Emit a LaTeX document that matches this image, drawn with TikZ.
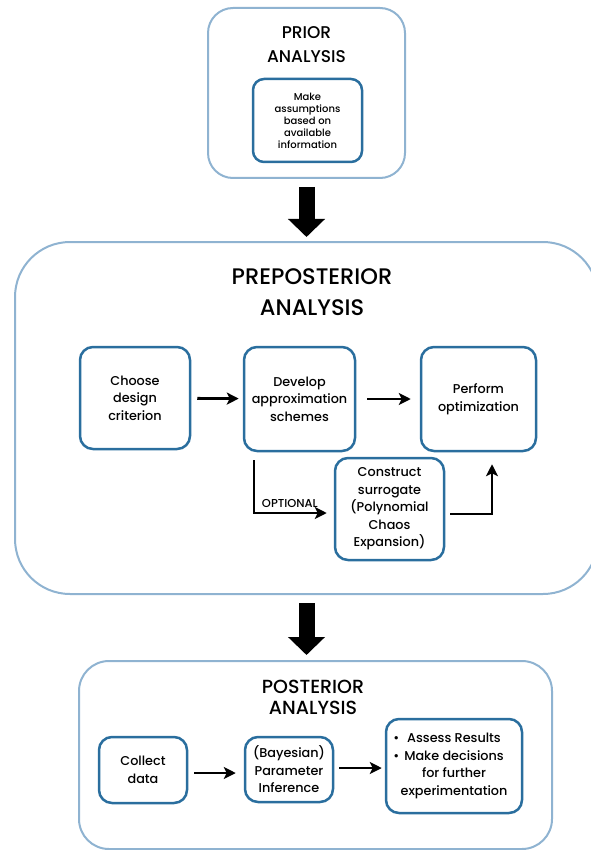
\documentclass[tikz,border=0pt]{standalone}
\usepackage{fontspec}
\setmainfont{Poppins}[UprightFont=* Medium]
\usetikzlibrary{arrows.meta,positioning}
\definecolor{framelight}{HTML}{8FB3D1}
\definecolor{framedark}{HTML}{2A6E9E}
\tikzset{
  stage/.style={draw=framelight, line width=2pt},
  task/.style={draw=framedark, line width=2.5pt, rounded corners=13pt,
    align=center, inner sep=2pt, font=\fontsize{12.8}{17.5}\selectfont},
  heading/.style={align=center, inner sep=0pt},
  flow/.style={-{Stealth[length=12pt,width=12pt,inset=3pt]}, line width=2.8pt},
  bigarrow/.style={-{Triangle[width=36pt,length=18pt]}, line width=16pt}
}

\begin{document}
\begin{tikzpicture}[>=Latex, x=1pt, y=-1pt]
\useasboundingbox (0,0) rectangle (590,850);

\node[stage, rounded corners=25pt, minimum width=197pt, minimum height=170pt] (prior) at (306.5,93) {};
\node[heading, font=\fontsize{17}{24}\selectfont] (priortitle) at (306.5,45) {PRIOR\\ANALYSIS};
\node[task, rounded corners=11pt, minimum width=109pt, minimum height=83pt,
  font=\fontsize{10}{12}\selectfont] (assume) at (307.5,120.5)
  {Make\\assumptions\\based on\\available\\information};

\node[stage, rounded corners=55pt, minimum width=583pt, minimum height=352pt] (prepost) at (306.5,418) {};
\node[heading, font=\fontsize{22.5}{31}\selectfont] (preposttitle) at (312,292) {PREPOSTERIOR\\ANALYSIS};
\node[task, minimum width=110pt, minimum height=102pt] (choose) at (135,398) {Choose\\design\\criterion};
\node[task, minimum width=111pt, minimum height=104pt] (develop) at (299.5,399) {Develop\\approximation\\schemes};
\node[task, minimum width=115pt, minimum height=104pt] (perform) at (478.5,399) {Perform\\optimization};
\node[task, minimum width=109pt, minimum height=102pt] (surrogate) at (389.5,509) {Construct\\surrogate\\(Polynomial\\Chaos\\Expansion)};
\coordinate (bend) at (254,513);
\coordinate (rise) at (492,514);

\node[stage, rounded corners=30pt, minimum width=473pt, minimum height=188pt] (post) at (315.5,755) {};
\node[heading, font=\fontsize{19}{21}\selectfont] (posttitle) at (313,697) {POSTERIOR\\ANALYSIS};
\node[task, minimum width=88pt, minimum height=66pt] (collect) at (143,770) {Collect\\data};
\node[task, minimum width=88pt, minimum height=65pt] (infer) at (289,769.5) {(Bayesian)\\Parameter\\Inference};
\node[task, minimum width=136pt, minimum height=94pt] (assess) at (454,766)
  {\llap{\textbullet\hspace{8pt}}Assess Results\\\llap{\textbullet\hspace{5pt}}Make decisions\\for further\\experimentation};

\draw[bigarrow, shorten <=8pt, shorten >=4pt] (prior.south) -- (prepost.north);
\draw[bigarrow, shorten <=8pt, shorten >=5pt] (prepost.south) -- (prepost.south |- post.north);

\draw[flow, shorten <=6pt, shorten >=4pt] (choose) -- (develop);
\draw[flow, shorten <=11pt, shorten >=9pt] (develop) -- (perform);
\draw[flow, shorten >=7pt] (develop.south -| bend) ++(0,8) -- (bend) -- (bend -| surrogate.west)
  node[pos=0.45, above=1pt, font=\fontsize{11.5}{12}\selectfont] {OPTIONAL};
\draw[flow, shorten >=12pt] (surrogate.east |- rise) ++(5,0) -- (rise) -- (rise |- perform.south);

\draw[flow, shorten <=6pt, shorten >=8pt] (collect.east |- 0,773) -- (infer.west |- 0,773);
\draw[flow, shorten <=5pt, shorten >=3pt] (infer.east |- 0,768) -- (assess.west |- 0,768);
\end{tikzpicture}
\end{document}
